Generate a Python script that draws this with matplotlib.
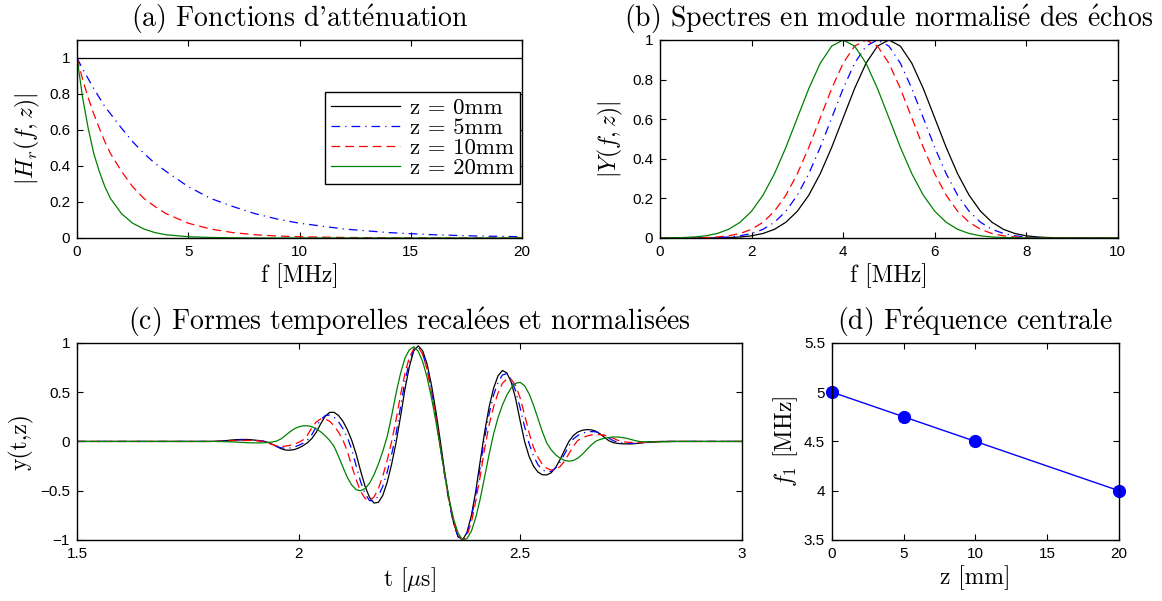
import numpy as np
import matplotlib
matplotlib.use("Agg")
import matplotlib.pyplot as plt
from matplotlib.ticker import FuncFormatter

plt.rcParams.update({
    'font.family': ['Liberation Sans', 'DejaVu Sans'],
    'mathtext.fontset': 'cm',
    'xtick.direction': 'in', 'ytick.direction': 'in',
    'xtick.top': True, 'ytick.right': True,
    'xtick.labelsize': 11, 'ytick.labelsize': 11,
    'xtick.major.size': 4, 'ytick.major.size': 4,
    'axes.linewidth': 1.0, 'lines.linewidth': 0.9,
})
SERIF = ['cmr10', 'DejaVu Serif']
E_ACUTE = r'$\acute{\rm e}$'

# ---- (a) attenuation functions ----
f_att = [0, 0.25, 0.5, 0.75, 1, 1.25, 1.5, 2, 2.5, 3, 3.5, 4, 5, 6, 7, 8, 9, 10, 12, 14, 16, 18, 20]
h_z0 = [1.0] * 23
h_z5 = [1.0, 0.94, 0.885, 0.83, 0.78, 0.73, 0.69, 0.61, 0.535, 0.47, 0.415, 0.37, 0.285, 0.22,
        0.175, 0.135, 0.105, 0.082, 0.05, 0.03, 0.018, 0.011, 0.007]
h_z10 = [1.0, 0.88, 0.78, 0.69, 0.61, 0.535, 0.47, 0.37, 0.285, 0.22, 0.175, 0.135, 0.082, 0.05,
         0.03, 0.018, 0.011, 0.007, 0.003, 0.001, 0.0, 0.0, 0.0]
h_z20 = [1.0, 0.78, 0.61, 0.47, 0.37, 0.285, 0.22, 0.135, 0.082, 0.05, 0.03, 0.018, 0.007, 0.003,
         0.001, 0.0, 0.0, 0.0, 0.0, 0.0, 0.0, 0.0, 0.0]

# ---- (b) normalised spectra, sampled every 0.25 MHz from 0 to 10 ----
f_spec = np.linspace(0, 10, 41)
y_z0 = [0, 0, 0, 0, 0.0003, 0.0009, 0.0022, 0.0051, 0.0111, 0.0228, 0.0439, 0.0796, 0.1353, 0.2163,
        0.3247, 0.4578, 0.6065, 0.7548, 0.8825, 0.969, 1.0, 0.969, 0.8825, 0.7548, 0.6065, 0.4578,
        0.3247, 0.2163, 0.1353, 0.0796, 0.0439, 0.0228, 0.0111, 0.0051, 0.0022, 0.0009, 0.0003,
        0, 0, 0, 0]
y_z5 = [0, 0, 0, 0.0003, 0.0009, 0.0022, 0.0051, 0.0111, 0.0228, 0.0439, 0.0796, 0.1353, 0.2163,
        0.3247, 0.4578, 0.6065, 0.7548, 0.8825, 0.969, 1.0, 0.969, 0.8825, 0.7548, 0.6065, 0.4578,
        0.3247, 0.2163, 0.1353, 0.0796, 0.0439, 0.0228, 0.0111, 0.0051, 0.0022, 0.0009, 0.0003,
        0, 0, 0, 0, 0]
y_z10 = [0, 0, 0.0003, 0.0009, 0.0022, 0.0051, 0.0111, 0.0228, 0.0439, 0.0796, 0.1353, 0.2163,
         0.3247, 0.4578, 0.6065, 0.7548, 0.8825, 0.969, 1.0, 0.969, 0.8825, 0.7548, 0.6065, 0.4578,
         0.3247, 0.2163, 0.1353, 0.0796, 0.0439, 0.0228, 0.0111, 0.0051, 0.0022, 0.0009, 0.0003,
         0, 0, 0, 0, 0, 0]
y_z20 = [0.0003, 0.0009, 0.0022, 0.0051, 0.0111, 0.0228, 0.0439, 0.0796, 0.1353, 0.2163, 0.3247,
         0.4578, 0.6065, 0.7548, 0.8825, 0.969, 1.0, 0.969, 0.8825, 0.7548, 0.6065, 0.4578, 0.3247,
         0.2163, 0.1353, 0.0796, 0.0439, 0.0228, 0.0111, 0.0051, 0.0022, 0.0009, 0.0003,
         0, 0, 0, 0, 0, 0, 0, 0]

# ---- (c) time waveforms, sampled every 0.01 us from 1.80 to 2.85 (zero outside) ----
t_us = np.concatenate([[1.5], np.round(np.arange(180, 286) / 100, 2), [3.0]])
w_z0 = [0, 0.000, 0.001, 0.003, 0.006, 0.010, 0.015, 0.018, 0.020, 0.020, 0.018, 0.014, 0.008,
        0.002, -0.008, -0.027, -0.050, -0.073, -0.087, -0.089, -0.083, -0.067, -0.043, -0.013,
        0.030, 0.095, 0.180, 0.255, 0.295, 0.295, 0.264, 0.205, 0.120, 0.010, -0.130, -0.300,
        -0.455, -0.567, -0.625, -0.618, -0.548, -0.413, -0.230, -0.010, 0.250, 0.530, 0.760,
        0.920, 0.970, 0.920, 0.785, 0.570, 0.300, 0.000, -0.320, -0.600, -0.830, -0.965, -0.998,
        -0.924, -0.750, -0.500, -0.195, 0.100, 0.350, 0.540, 0.665, 0.720, 0.695, 0.600, 0.430,
        0.210, 0.000, -0.150, -0.250, -0.310, -0.338, -0.340, -0.318, -0.265, -0.185, -0.090,
        0.000, 0.060, 0.095, 0.113, 0.120, 0.118, 0.105, 0.078, 0.042, 0.008, -0.012, -0.020,
        -0.024, -0.025, -0.025, -0.022, -0.017, -0.011, -0.006, -0.003, -0.001, 0.000, 0, 0, 0, 0]
w_z5 = [0, 0, 0.001, 0.002, 0.004, 0.007, 0.010, 0.013, 0.015, 0.015, 0.015, 0.013, 0.009, 0.004,
        -0.008, -0.030, -0.050, -0.064, -0.070, -0.067, -0.057, -0.040, -0.018, 0.015, 0.070,
        0.150, 0.220, 0.262, 0.268, 0.246, 0.200, 0.130, 0.040, -0.080, -0.250, -0.410, -0.530,
        -0.600, -0.605, -0.555, -0.455, -0.310, -0.130, 0.080, 0.350, 0.610, 0.810, 0.930, 0.960,
        0.890, 0.740, 0.520, 0.240, -0.060, -0.360, -0.630, -0.840, -0.970, -1.000, -0.930, -0.770,
        -0.540, -0.250, 0.040, 0.280, 0.470, 0.600, 0.675, 0.687, 0.630, 0.510, 0.340, 0.150,
        -0.020, -0.145, -0.235, -0.288, -0.308, -0.304, -0.270, -0.210, -0.130, -0.045, 0.025,
        0.060, 0.083, 0.096, 0.100, 0.098, 0.086, 0.063, 0.034, 0.008, -0.008, -0.014, -0.018,
        -0.020, -0.020, -0.018, -0.014, -0.010, -0.006, -0.003, -0.001, 0, 0, 0, 0]
w_z10 = [0, 0, 0.001, 0.002, 0.003, 0.005, 0.007, 0.009, 0.010, 0.010, 0.010, 0.008, 0.005, 0.000,
         -0.012, -0.030, -0.044, -0.050, -0.048, -0.040, -0.027, -0.010, 0.015, 0.065, 0.140,
         0.198, 0.228, 0.226, 0.205, 0.160, 0.095, 0.015, -0.100, -0.250, -0.390, -0.505, -0.578,
         -0.600, -0.565, -0.480, -0.350, -0.190, 0.000, 0.220, 0.470, 0.690, 0.855, 0.940, 0.960,
         0.885, 0.730, 0.500, 0.240, -0.060, -0.350, -0.600, -0.820, -0.955, -1.000, -0.955,
         -0.820, -0.600, -0.350, -0.070, 0.170, 0.350, 0.490, 0.590, 0.635, 0.630, 0.565, 0.440,
         0.270, 0.090, -0.060, -0.160, -0.230, -0.272, -0.290, -0.285, -0.255, -0.200, -0.125,
         -0.050, 0.010, 0.035, 0.054, 0.065, 0.070, 0.069, 0.062, 0.050, 0.032, 0.012, -0.002,
         -0.007, -0.010, -0.012, -0.012, -0.011, -0.009, -0.006, -0.004, -0.002, -0.001, 0, 0, 0]
w_z20 = [0, 0, 0, -0.001, -0.002, -0.003, -0.005, -0.007, -0.009, -0.012, -0.014, -0.015, -0.015,
         -0.014, -0.011, -0.006, 0.003, 0.025, 0.060, 0.096, 0.127, 0.148, 0.158, 0.159, 0.149,
         0.128, 0.097, 0.058, 0.010, -0.050, -0.150, -0.260, -0.365, -0.443, -0.490, -0.500,
         -0.478, -0.425, -0.340, -0.230, -0.100, 0.050, 0.260, 0.490, 0.690, 0.845, 0.930, 0.960,
         0.915, 0.810, 0.650, 0.440, 0.200, -0.070, -0.340, -0.590, -0.790, -0.930, -1.000,
         -0.985, -0.910, -0.770, -0.580, -0.355, -0.130, 0.075, 0.240, 0.370, 0.470, 0.545, 0.590,
         0.600, 0.565, 0.485, 0.370, 0.235, 0.100, -0.015, -0.085, -0.135, -0.170, -0.192, -0.200,
         -0.193, -0.170, -0.132, -0.085, -0.038, 0.000, 0.020, 0.032, 0.040, 0.045, 0.045, 0.040,
         0.032, 0.020, 0.008, -0.001, -0.004, -0.005, -0.005, -0.005, -0.004, -0.003, -0.001, 0, 0]

# ---- (d) central frequency ----
z_mm = [0, 5, 10, 20]
f_central = [5.0, 4.75, 4.5, 4.0]

labels = ['z = 0mm', 'z = 5mm', 'z = 10mm', 'z = 20mm']
colors = ['black', 'blue', 'red', 'green']
styles = ['-', (0, (7, 4, 1, 4)), (0, (7, 4)), '-']


def minus_fmt(v, pos):
    return ('%g' % v).replace('-', '\u2212')


fig = plt.figure(figsize=(11.62, 6.01), dpi=100)
ax_a = fig.add_axes([0.0663, 0.604, 0.383, 0.3295])
ax_b = fig.add_axes([0.568, 0.604, 0.394, 0.3295])
ax_c = fig.add_axes([0.0663, 0.1015, 0.572, 0.328])
ax_d = fig.add_axes([0.716, 0.1015, 0.247, 0.328])

TITLE_FS = 20
LABEL_FS = 17

for h, lab, c, ls in zip([h_z0, h_z5, h_z10, h_z20], labels, colors, styles):
    ax_a.plot(f_att, h, color=c, linestyle=ls, label=lab)
ax_a.set_xlim(0, 20)
ax_a.set_ylim(0, 1.1)
ax_a.set_xticks([0, 5, 10, 15, 20])
ax_a.set_yticks([0, 0.2, 0.4, 0.6, 0.8, 1])
ax_a.set_title("(a) Fonctions d'att" + E_ACUTE + "nuation", fontsize=TITLE_FS, family=SERIF, pad=9)
ax_a.set_xlabel('f [MHz]', fontsize=LABEL_FS, family=SERIF, labelpad=3)
ax_a.set_ylabel(r'$|H_r(f,z)|$', fontsize=LABEL_FS, labelpad=5)
leg = ax_a.legend(loc='upper right', bbox_to_anchor=(0.995, 0.735), prop={'family': SERIF, 'size': 16.5},
                  handlelength=3.0, fancybox=False, framealpha=1, borderpad=0.25, labelspacing=0.0,
                  handletextpad=0.45, borderaxespad=0)
leg.get_frame().set_edgecolor('black')
leg.get_frame().set_linewidth(1.0)

for y, c, ls in zip([y_z0, y_z5, y_z10, y_z20], colors, styles):
    ax_b.plot(f_spec, y, color=c, linestyle=ls)
ax_b.set_xlim(0, 10)
ax_b.set_ylim(0, 1)
ax_b.set_xticks([0, 2, 4, 6, 8, 10])
ax_b.set_yticks([0, 0.2, 0.4, 0.6, 0.8, 1])
ax_b.set_title('(b) Spectres en module normalis' + E_ACUTE + ' des ' + E_ACUTE + 'chos',
               fontsize=TITLE_FS, family=SERIF, pad=9)
ax_b.set_xlabel('f [MHz]', fontsize=LABEL_FS, family=SERIF, labelpad=3)
ax_b.set_ylabel(r'$|Y(f,z)|$', fontsize=LABEL_FS, labelpad=5)

for w, c, ls in zip([w_z0, w_z5, w_z10, w_z20], colors, styles):
    ax_c.plot(t_us, w, color=c, linestyle=ls)
ax_c.set_xlim(1.5, 3)
ax_c.set_ylim(-1, 1)
ax_c.set_xticks([1.5, 2, 2.5, 3])
ax_c.set_yticks([-1, -0.5, 0, 0.5, 1])
ax_c.set_title('(c) Formes temporelles recal' + E_ACUTE + 'es et normalis' + E_ACUTE + 'es',
               fontsize=TITLE_FS, family=SERIF, pad=9)
ax_c.set_xlabel(r't [$\mu$s]', fontsize=LABEL_FS, family=SERIF, labelpad=3)
ax_c.set_ylabel('y(t,z)', fontsize=LABEL_FS, family=SERIF, labelpad=5)

ax_d.plot(z_mm, f_central, color='blue', marker='o', markersize=8.5, linewidth=1.0, clip_on=False)
ax_d.set_xlim(0, 20)
ax_d.set_ylim(3.5, 5.5)
ax_d.set_xticks([0, 5, 10, 15, 20])
ax_d.set_yticks([3.5, 4, 4.5, 5, 5.5])
ax_d.set_title('(d) Fr' + E_ACUTE + 'quence centrale', fontsize=TITLE_FS, family=SERIF, pad=9)
ax_d.set_xlabel('z [mm]', fontsize=LABEL_FS, family=SERIF, labelpad=3)
ax_d.set_ylabel(r'$f_1$ [MHz]', fontsize=LABEL_FS, family=SERIF, labelpad=3)

for ax in (ax_a, ax_b, ax_c, ax_d):
    ax.xaxis.set_major_formatter(FuncFormatter(minus_fmt))
    ax.yaxis.set_major_formatter(FuncFormatter(minus_fmt))
    ax.tick_params(pad=5)

fig.savefig('out.png', dpi=100)
